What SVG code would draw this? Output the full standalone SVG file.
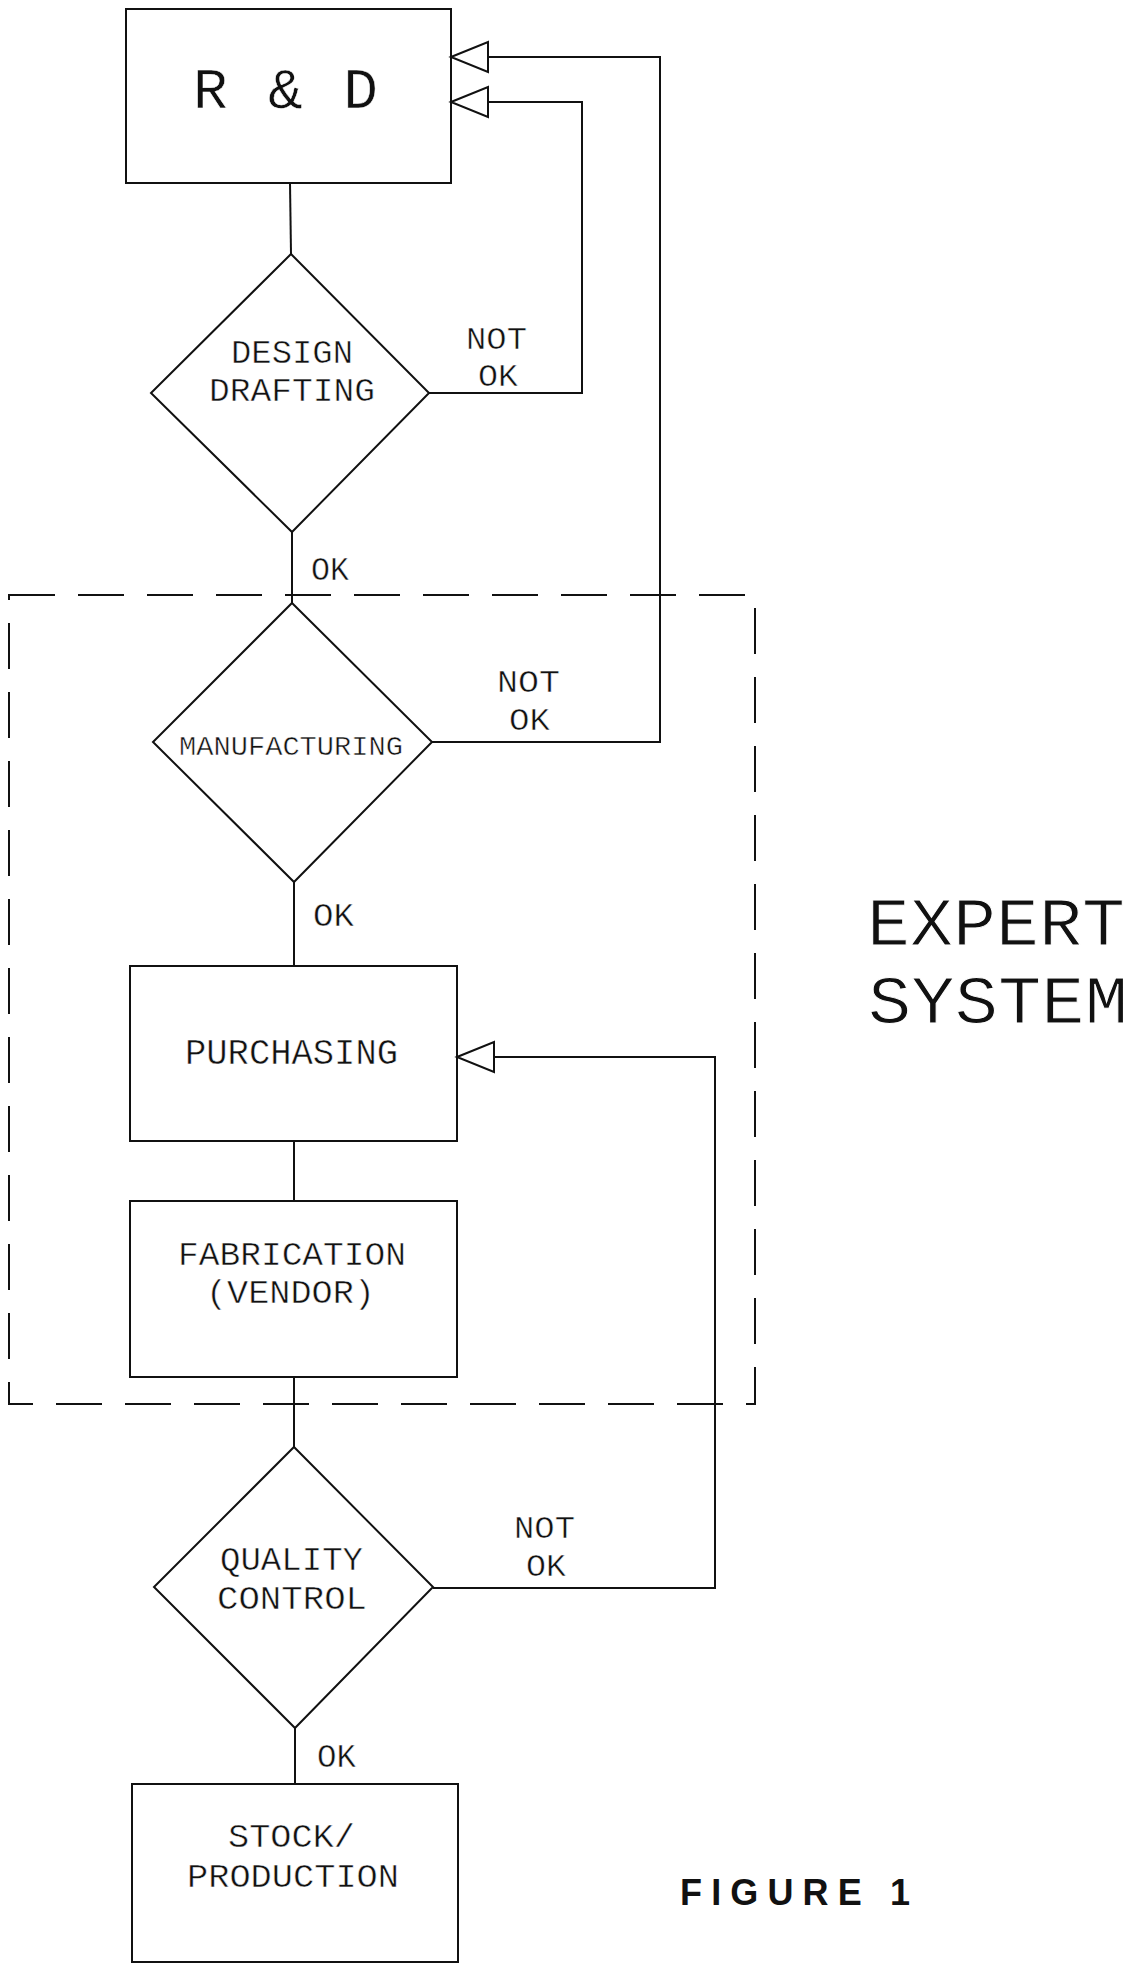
<svg xmlns="http://www.w3.org/2000/svg" width="1144" height="1966" viewBox="0 0 1144 1966">
<defs>
<style>
.box{fill:none;stroke:#111;stroke-width:2}
.ln{fill:none;stroke:#111;stroke-width:2}
.arr{fill:#fff;stroke:#111;stroke-width:2;stroke-linejoin:miter}
.dash{fill:none;stroke:#111;stroke-width:2;stroke-dasharray:46 23}
.t{font-family:"Liberation Mono","DejaVu Sans Mono",monospace;fill:#111;stroke:#fff;stroke-width:0.5}
.big{font-family:"Liberation Mono","DejaVu Sans Mono",monospace;fill:#111;stroke:#fff;stroke-width:1}
.hand{font-family:"Liberation Sans","DejaVu Sans",sans-serif;font-weight:bold;fill:#111}
</style>
</defs>
<rect width="1144" height="1966" fill="#fff"/>

<g id="expert-system-boundary">
<rect class="dash" x="9" y="595" width="746" height="809"/>
</g>

<g id="connectors">
<line class="ln" x1="290" y1="183" x2="291" y2="254"/>
<line class="ln" x1="292" y1="532" x2="292" y2="603"/>
<line class="ln" x1="294" y1="882" x2="294" y2="966"/>
<line class="ln" x1="294" y1="1141" x2="294" y2="1201"/>
<line class="ln" x1="294" y1="1377" x2="294" y2="1447"/>
<line class="ln" x1="295" y1="1728" x2="295" y2="1784"/>
<polyline class="ln" points="429,393 582,393 582,102 488,102"/>
<polygon class="arr" points="451,102 488,87 488,117"/>
<polyline class="ln" points="432,742 660,742 660,57 488,57"/>
<polygon class="arr" points="451,57 488,42 488,72"/>
<polyline class="ln" points="433,1588 715,1588 715,1057 494,1057"/>
<polygon class="arr" points="457,1057 494,1042 494,1072"/>
<text class="t" x="466" y="349" font-size="32" textLength="61" lengthAdjust="spacingAndGlyphs">NOT</text>
<text class="t" x="478" y="386" font-size="32" textLength="40" lengthAdjust="spacingAndGlyphs">OK</text>
<text class="t" x="311" y="580" font-size="34" textLength="38" lengthAdjust="spacingAndGlyphs">OK</text>
<text class="t" x="497" y="692" font-size="32" textLength="63" lengthAdjust="spacingAndGlyphs">NOT</text>
<text class="t" x="509" y="730" font-size="32" textLength="41" lengthAdjust="spacingAndGlyphs">OK</text>
<text class="t" x="313" y="926" font-size="34" textLength="41" lengthAdjust="spacingAndGlyphs">OK</text>
<text class="t" x="514" y="1538" font-size="32" textLength="61" lengthAdjust="spacingAndGlyphs">NOT</text>
<text class="t" x="526" y="1576" font-size="32" textLength="40" lengthAdjust="spacingAndGlyphs">OK</text>
<text class="t" x="317" y="1767" font-size="34" textLength="39" lengthAdjust="spacingAndGlyphs">OK</text>
</g>

<g id="rd">
<rect class="box" x="126" y="9" width="325" height="174"/>
<text class="t" x="193" y="108" font-size="58" textLength="185" lengthAdjust="spacing">R &amp; D</text>
</g>

<g id="design-drafting">
<polygon class="box" points="291,254 429,393 292,532 151,393"/>
<text class="t" x="231" y="363" font-size="33" textLength="122" lengthAdjust="spacingAndGlyphs">DESIGN</text>
<text class="t" x="209" y="401" font-size="33" textLength="166" lengthAdjust="spacingAndGlyphs">DRAFTING</text>
</g>

<g id="manufacturing">
<polygon class="box" points="292,603 432,742 294,882 153,742"/>
<text class="t" x="179" y="755" font-size="28" textLength="224" lengthAdjust="spacingAndGlyphs">MANUFACTURING</text>
</g>

<g id="purchasing">
<rect class="box" x="130" y="966" width="327" height="175"/>
<text class="t" x="185" y="1064" font-size="36" textLength="213" lengthAdjust="spacingAndGlyphs">PURCHASING</text>
</g>

<g id="fabrication">
<rect class="box" x="130" y="1201" width="327" height="176"/>
<text class="t" x="178" y="1265" font-size="33" textLength="228" lengthAdjust="spacingAndGlyphs">FABRICATION</text>
<text class="t" x="206" y="1303" font-size="33" textLength="169" lengthAdjust="spacingAndGlyphs">(VENDOR)</text>
</g>

<g id="quality-control">
<polygon class="box" points="294,1447 433,1587 295,1728 154,1587"/>
<text class="t" x="220" y="1570" font-size="34" textLength="143" lengthAdjust="spacingAndGlyphs">QUALITY</text>
<text class="t" x="217" y="1609" font-size="34" textLength="150" lengthAdjust="spacingAndGlyphs">CONTROL</text>
</g>

<g id="stock-production">
<rect class="box" x="132" y="1784" width="326" height="178"/>
<text class="t" x="228" y="1847" font-size="34" textLength="127" lengthAdjust="spacingAndGlyphs">STOCK/</text>
<text class="t" x="187" y="1887" font-size="34" textLength="212" lengthAdjust="spacingAndGlyphs">PRODUCTION</text>
</g>

<g id="labels">
<text class="big" x="867" y="945" font-size="68" textLength="258" lengthAdjust="spacingAndGlyphs">EXPERT</text>
<text class="big" x="868" y="1023" font-size="68" textLength="260" lengthAdjust="spacingAndGlyphs">SYSTEM</text>
<text class="hand" x="680" y="1905" font-size="36" textLength="230" lengthAdjust="spacing">FIGURE 1</text>
</g>
</svg>
